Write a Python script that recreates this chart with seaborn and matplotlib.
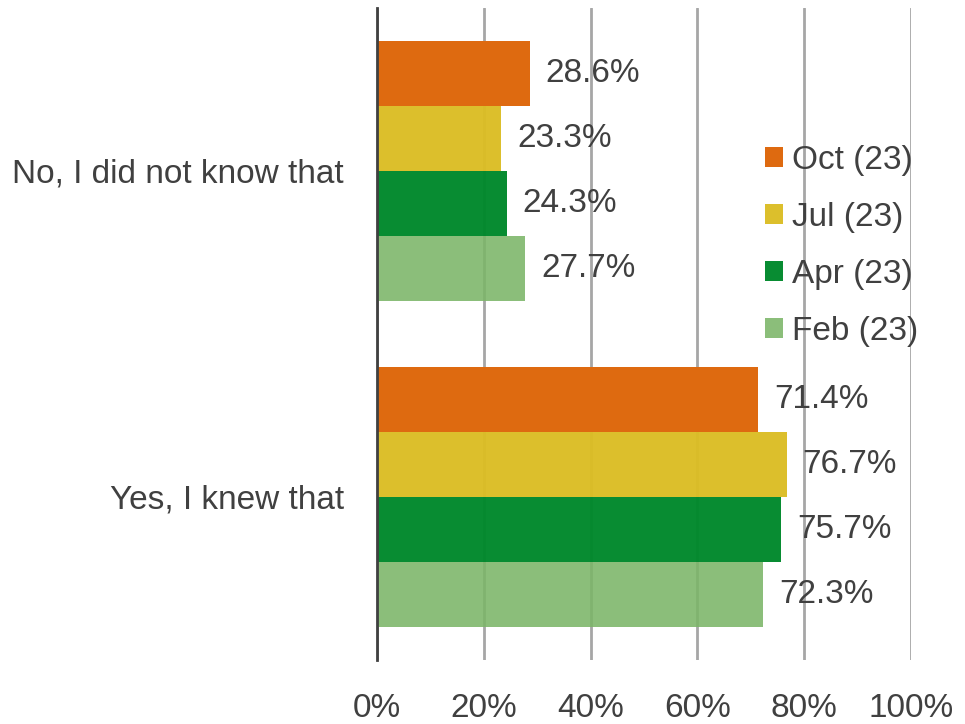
import matplotlib
matplotlib.use("Agg")
import matplotlib.pyplot as plt
import seaborn as sns
import pandas as pd
from matplotlib.ticker import FixedLocator, FuncFormatter

answers = ["No, I did not know that", "Yes, I knew that"]
waves = ["Oct (23)", "Jul (23)", "Apr (23)", "Feb (23)"]
oct_23 = [28.6, 71.4]
jul_23 = [23.3, 76.7]
apr_23 = [24.3, 75.7]
feb_23 = [27.7, 72.3]
colors = ["#DE6A10", "#DBBD25", "#00882B", "#7BB568"]
bar_alpha = [1.0, 0.97, 0.97, 0.88]
x_ticks = [0, 20, 40, 60, 80, 100]

rows = []
for wave, vals in zip(waves, [oct_23, jul_23, apr_23, feb_23]):
    for ans, v in zip(answers, vals):
        rows.append({"answer": ans, "wave": wave, "pct": v})
df = pd.DataFrame(rows)

sns.set_style("white")
plt.rcParams["font.family"] = ["Liberation Sans", "DejaVu Sans"]
text_color = "#404040"
fs = 24

fig = plt.figure(figsize=(9.65, 7.24), dpi=100)
ax = fig.add_axes([0.3907, 0.0884, 0.5534, 0.9006])

sns.barplot(data=df, y="answer", x="pct", hue="wave", order=answers,
            hue_order=waves, palette=colors, saturation=1, orient="y",
            width=0.8, linewidth=0, errorbar=None, ax=ax, zorder=2)

for cont, a in zip(ax.containers, bar_alpha):
    for patch in cont:
        patch.set_alpha(a)
    ax.bar_label(cont, fmt="%.1f%%", padding=11.5, fontsize=fs,
                 color=text_color)

ax.set_xlim(0, 100)
ax.set_ylim(1.5, -0.5)
ax.xaxis.set_major_locator(FixedLocator(x_ticks))
ax.xaxis.set_major_formatter(FuncFormatter(lambda v, p: f"{v:.0f}%"))
ax.grid(axis="x", color="#A6A6A6", linewidth=2, zorder=1)
ax.set_axisbelow(True)
ax.tick_params(axis="x", length=0, pad=24, labelsize=fs, labelcolor=text_color)
ax.tick_params(axis="y", length=0, pad=24, labelsize=fs, labelcolor=text_color)
ax.set_xlabel("")
ax.set_ylabel("")

for side in ["top", "right", "bottom"]:
    ax.spines[side].set_visible(False)
ax.spines["left"].set_color(text_color)
ax.spines["left"].set_linewidth(2)

leg = ax.legend(loc="upper left", bbox_to_anchor=(0.727, 0.79), frameon=False,
                fontsize=fs, handlelength=0.54, handleheight=0.54,
                handletextpad=0.27, labelspacing=0.78, borderaxespad=0,
                borderpad=0)
for t in leg.get_texts():
    t.set_color(text_color)
for h, a in zip(leg.legend_handles, bar_alpha):
    h.set_alpha(a)

fig.savefig("out.png", dpi=100)
